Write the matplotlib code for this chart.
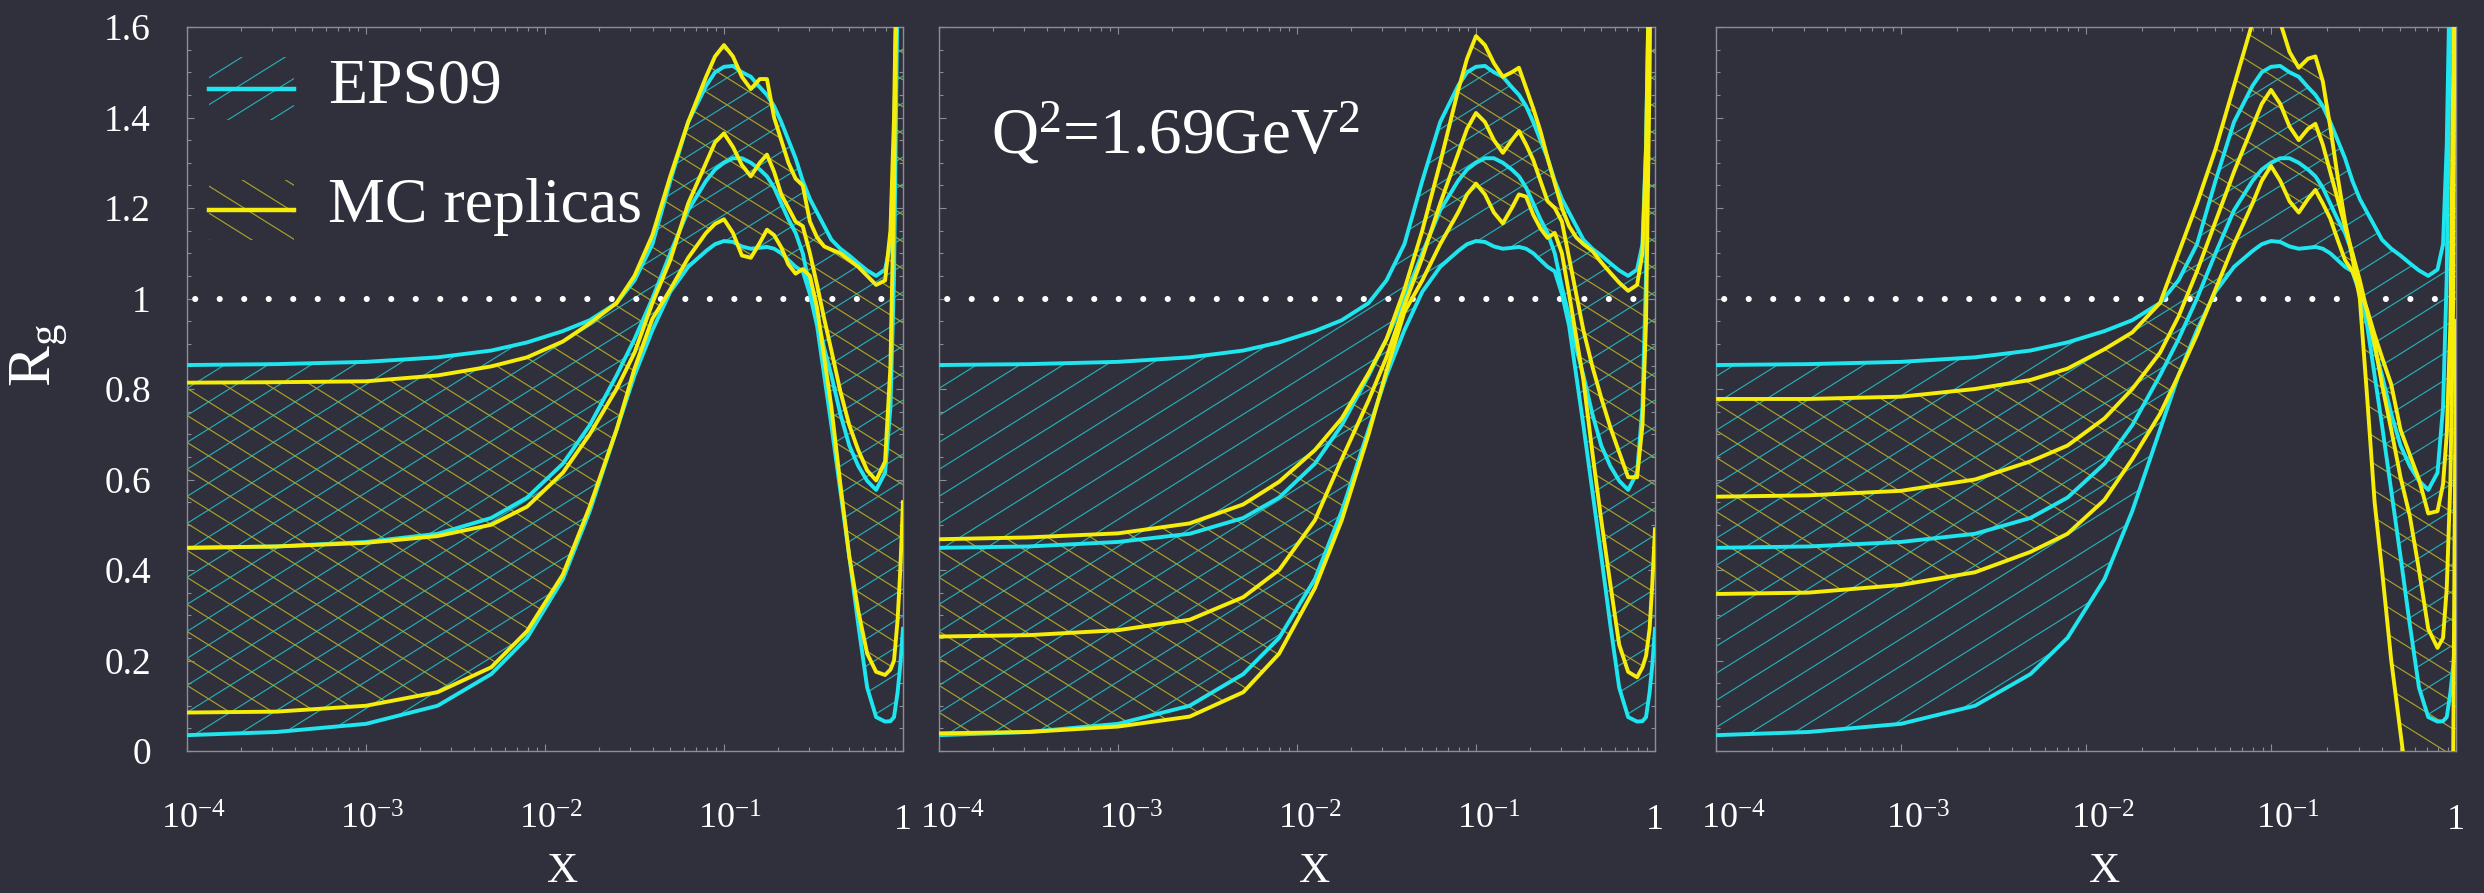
import numpy as np
import matplotlib
matplotlib.use('Agg')
import matplotlib.pyplot as plt
import matplotlib.transforms as mtransforms
from matplotlib.collections import LineCollection
from matplotlib.patches import Rectangle
from matplotlib.ticker import FixedLocator, FixedFormatter, MultipleLocator, LogLocator, NullFormatter

# log10(x) sample points
lx = [-4.0, -3.5, -3.0, -2.6, -2.3, -2.1, -1.9, -1.75, -1.6, -1.5,
      -1.4, -1.3, -1.2, -1.1, -1.05, -1.0, -0.95, -0.9, -0.85, -0.8,
      -0.76, -0.72, -0.68, -0.64, -0.6, -0.56, -0.52, -0.48, -0.44, -0.4,
      -0.35, -0.3, -0.25, -0.2, -0.15, -0.1, -0.07, -0.05, -0.03, -0.015, 0.0]

# EPS09 (same in all three panels)
eps_hi = [0.853, 0.855, 0.860, 0.870, 0.885, 0.903, 0.928, 0.952, 0.99, 1.04,
          1.12, 1.26, 1.39, 1.47, 1.50, 1.512, 1.514, 1.50, 1.49, 1.467,
          1.45, 1.425, 1.39, 1.35, 1.31, 1.26, 1.22, 1.19, 1.16, 1.13,
          1.11, 1.095, 1.078, 1.062, 1.05, 1.064, 1.12, 1.34, 1.8, 2.5, 3.5]
eps_mid = [0.449, 0.452, 0.462, 0.480, 0.515, 0.56, 0.635, 0.72, 0.83, 0.91,
           1.0, 1.10, 1.195, 1.26, 1.285, 1.30, 1.31, 1.31, 1.30, 1.285,
           1.27, 1.245, 1.21, 1.175, 1.145, 1.10, 1.025, 0.96, 0.89, 0.83,
           0.745, 0.675, 0.63, 0.597, 0.577, 0.615, 0.76, 1.05, 1.7, 2.5, 3.5]
eps_lo = [0.035, 0.042, 0.06, 0.10, 0.17, 0.25, 0.38, 0.53, 0.71, 0.83,
          0.93, 1.015, 1.07, 1.105, 1.12, 1.127, 1.125, 1.115, 1.11, 1.112,
          1.114, 1.11, 1.10, 1.085, 1.07, 1.06, 1.01, 0.94, 0.83, 0.72,
          0.575, 0.43, 0.28, 0.14, 0.075, 0.065, 0.066, 0.075, 0.13, 0.19, 0.27]

# MC replicas, panel 1
mc1_hi = [0.814, 0.815, 0.817, 0.83, 0.85, 0.87, 0.905, 0.945, 0.99, 1.05,
          1.14, 1.27, 1.39, 1.49, 1.535, 1.56, 1.535, 1.49, 1.463, 1.485,
          1.485, 1.40, 1.35, 1.30, 1.265, 1.25, 1.17, 1.135, 1.115, 1.108,
          1.10, 1.085, 1.07, 1.05, 1.03, 1.04, 1.15, 1.40, 1.9, 2.6, 3.5]
mc1_mid = [0.449, 0.452, 0.46, 0.475, 0.50, 0.54, 0.615, 0.70, 0.80, 0.88,
           0.99, 1.085, 1.21, 1.30, 1.345, 1.365, 1.335, 1.295, 1.27, 1.30,
           1.318, 1.28, 1.23, 1.20, 1.17, 1.16, 1.10, 1.03, 0.955, 0.885,
           0.795, 0.72, 0.665, 0.62, 0.598, 0.64, 0.85, 1.25, 1.9, 2.6, 3.5]
mc1_lo = [0.085, 0.087, 0.10, 0.13, 0.185, 0.265, 0.39, 0.54, 0.71, 0.845,
          0.955, 1.02, 1.09, 1.145, 1.165, 1.175, 1.145, 1.095, 1.09, 1.123,
          1.152, 1.14, 1.113, 1.075, 1.055, 1.065, 1.05, 0.98, 0.87, 0.76,
          0.59, 0.43, 0.31, 0.215, 0.175, 0.168, 0.18, 0.20, 0.29, 0.40, 0.55]

# MC replicas, panel 2
mc2_hi = [0.468, 0.472, 0.481, 0.503, 0.545, 0.595, 0.665, 0.735, 0.835, 0.91,
          1.02, 1.15, 1.30, 1.46, 1.53, 1.58, 1.56, 1.52, 1.49, 1.50,
          1.51, 1.465, 1.42, 1.37, 1.31, 1.255, 1.20, 1.16, 1.135, 1.12,
          1.105, 1.08, 1.057, 1.035, 1.017, 1.03, 1.10, 1.33, 1.8, 2.5, 3.5]
mc2_mid = [0.253, 0.256, 0.267, 0.29, 0.34, 0.40, 0.51, 0.645, 0.775, 0.87,
           0.985, 1.09, 1.21, 1.32, 1.375, 1.41, 1.39, 1.35, 1.322, 1.35,
           1.37, 1.34, 1.306, 1.26, 1.215, 1.20, 1.17, 1.09, 1.01, 0.93,
           0.85, 0.78, 0.716, 0.66, 0.605, 0.605, 0.72, 0.95, 1.5, 2.2, 3.0]
mc2_lo = [0.039, 0.042, 0.054, 0.076, 0.13, 0.215, 0.36, 0.51, 0.70, 0.84,
          0.97, 1.04, 1.12, 1.19, 1.23, 1.254, 1.23, 1.19, 1.166, 1.20,
          1.23, 1.225, 1.185, 1.155, 1.134, 1.145, 1.10, 1.01, 0.915, 0.82,
          0.66, 0.51, 0.37, 0.235, 0.175, 0.163, 0.185, 0.21, 0.27, 0.37, 0.49]

# MC replicas, panel 3
mc3_hi = [0.778, 0.778, 0.783, 0.80, 0.82, 0.845, 0.888, 0.925, 0.99, 1.10,
          1.21, 1.33, 1.47, 1.61, 1.69, 1.70, 1.61, 1.545, 1.51, 1.53,
          1.535, 1.48, 1.38, 1.27, 1.17, 1.09, 1.0, 0.78, 0.55, 0.40,
          0.20, 0.04, -0.12, -0.30, -0.45, -0.55, -0.55, -0.5, -0.35, 0.0, 0.95]
mc3_mid = [0.562, 0.565, 0.575, 0.60, 0.64, 0.675, 0.735, 0.80, 0.88, 0.96,
           1.06, 1.17, 1.28, 1.38, 1.43, 1.461, 1.43, 1.38, 1.35, 1.375,
           1.386, 1.34, 1.28, 1.22, 1.16, 1.10, 1.04, 0.97, 0.90, 0.81,
           0.71, 0.605, 0.52, 0.40, 0.27, 0.228, 0.25, 0.36, 0.6, 1.0, 2.5]
mc3_lo = [0.347, 0.350, 0.367, 0.395, 0.44, 0.48, 0.555, 0.645, 0.745, 0.83,
          0.92, 1.02, 1.12, 1.21, 1.26, 1.293, 1.26, 1.215, 1.19, 1.22,
          1.24, 1.21, 1.177, 1.13, 1.085, 1.06, 1.02, 0.975, 0.92, 0.87,
          0.81, 0.71, 0.655, 0.60, 0.525, 0.53, 0.59, 0.70, 0.95, 1.5, 2.5]

mc_sets = [(mc1_hi, mc1_mid, mc1_lo), (mc2_hi, mc2_mid, mc2_lo), (mc3_hi, mc3_mid, mc3_lo)]

yticks = [0, 0.2, 0.4, 0.6, 0.8, 1.0, 1.2, 1.4, 1.6]
ytick_labels = ['0', '0.2', '0.4', '0.6', '0.8', '1', '1.2', '1.4', '1.6']
xticks = [1e-4, 1e-3, 1e-2, 1e-1, 1]
xtick_labels = [r'$\mathregular{10^{-4}}$', r'$\mathregular{10^{-3}}$',
                r'$\mathregular{10^{-2}}$', r'$\mathregular{10^{-1}}$', '1']

plt.rcParams['font.family'] = ['Liberation Serif', 'DejaVu Serif']
plt.rcParams['mathtext.fontset'] = 'custom'
plt.rcParams['mathtext.rm'] = 'Liberation Serif'
plt.rcParams['mathtext.it'] = 'Liberation Serif:italic'
plt.rcParams['mathtext.bf'] = 'Liberation Serif:bold'

BG = '#2f303c'
CYAN = '#1fe6ee'
YELLOW = '#f6ee0a'
CYAN_H = '#25adb4'
YELLOW_H = '#a8a228'
FRAME = '#8c8c96'

x = 10 ** np.array(lx)

fig = plt.figure(figsize=(24.84, 8.93), dpi=100, facecolor=BG)
boxes = [(0.07528, 0.15901, 0.28824, 0.81075),
         (0.37802, 0.15901, 0.28824, 0.81075),
         (0.69082, 0.15901, 0.29791, 0.81075)]
label_shift = [6, 13, 17]  # px, the x tick labels sit a bit right of their ticks


def hatch(ax, clip, clip_trans, sign, color):
    # slanted hatch lines in pixel space, clipped to a region
    W, H = ax.bbox.width, ax.bbox.height
    t = np.tan(np.radians(32))
    step = 27.0
    segs = []
    for c in np.arange(-W * t - step, H + W * t + step, step):
        segs.append([(0, c / H), (1, (c + sign * W * t) / H)])
    lc = LineCollection(segs, colors=color, linewidths=0.85, transform=ax.transAxes, zorder=1)
    ax.add_collection(lc, autolim=False)
    lc.set_clip_path(clip, clip_trans)


for i, box in enumerate(boxes):
    ax = fig.add_axes(box)
    ax.set_facecolor(BG)
    ax.set_xscale('log')
    ax.set_xlim(1e-4, 1)
    ax.set_ylim(0, 1.6)
    mc_hi, mc_mid, mc_lo = mc_sets[i]

    band_c = ax.fill_between(x, eps_lo, eps_hi, facecolor='none', edgecolor='none', linewidth=0)
    hatch(ax, band_c.get_paths()[0], band_c.get_transform(), 1, CYAN_H)
    band_y = ax.fill_between(x, mc_lo, mc_hi, facecolor='none', edgecolor='none', linewidth=0)
    hatch(ax, band_y.get_paths()[0], band_y.get_transform(), -1, YELLOW_H)

    ax.axhline(1.0, color='white', lw=4.4, linestyle=(2.67, (0.01, 4.0)),
               dash_capstyle='round', zorder=3)

    for yy in (eps_hi, eps_mid, eps_lo):
        ax.plot(x, yy, color=CYAN, lw=2.8, zorder=4, solid_joinstyle='round')
    for yy in (mc_hi, mc_mid, mc_lo):
        ax.plot(x, yy, color=YELLOW, lw=2.8, zorder=5, solid_joinstyle='round')

    ax.xaxis.set_major_locator(FixedLocator(xticks))
    ax.xaxis.set_major_formatter(FixedFormatter(xtick_labels))
    ax.xaxis.set_minor_locator(LogLocator(base=10, subs=np.arange(2, 10)))
    ax.xaxis.set_minor_formatter(NullFormatter())
    ax.yaxis.set_major_locator(FixedLocator(yticks))
    ax.yaxis.set_minor_locator(MultipleLocator(0.05))
    if i == 0:
        ax.yaxis.set_major_formatter(FixedFormatter(ytick_labels))
    else:
        ax.tick_params(axis='y', labelleft=False)

    ax.tick_params(which='both', direction='in', top=True, right=True,
                   color=FRAME, labelcolor='white', width=0.8)
    ax.tick_params(which='major', length=5)
    ax.tick_params(which='minor', length=3)
    ax.tick_params(axis='x', labelsize=26, pad=38)
    ax.tick_params(axis='y', labelsize=27, pad=26)
    shift = mtransforms.ScaledTranslation(label_shift[i] / 100, 0, fig.dpi_scale_trans)
    for lab in ax.get_xticklabels()[:4]:
        lab.set_transform(lab.get_transform() + shift)
    for s in ax.spines.values():
        s.set_color(FRAME)
        s.set_linewidth(1.0)

    ax.text(0.525, -0.167, 'X', transform=ax.transAxes, ha='center', va='center',
            fontsize=31, color='white')

    if i == 0:
        # hand-made legend with slanted hatching
        r1 = Rectangle((0.031, 0.872), 0.118, 0.086, transform=ax.transAxes,
                       fill=False, edgecolor='none')
        r2 = Rectangle((0.031, 0.706), 0.118, 0.083, transform=ax.transAxes,
                       fill=False, edgecolor='none')
        ax.add_patch(r1)
        ax.add_patch(r2)
        hatch(ax, r1, None, 1, CYAN_H)
        hatch(ax, r2, None, -1, YELLOW_H)
        ax.plot([0.031, 0.149], [0.914, 0.914], transform=ax.transAxes, color=CYAN, lw=3.2, zorder=6)
        ax.plot([0.031, 0.149], [0.747, 0.747], transform=ax.transAxes, color=YELLOW, lw=3.2, zorder=6)
        ax.text(0.197, 0.896, 'EPS09', transform=ax.transAxes, fontsize=46,
                color='white', va='baseline')
        ax.text(0.197, 0.731, 'MC replicas', transform=ax.transAxes, fontsize=46,
                color='white', va='baseline')
    if i == 1:
        ax.text(0.072, 0.827, r'Q$^\mathregular{2}$=1.69GeV$^\mathregular{2}$',
                transform=ax.transAxes, fontsize=47, color='white', va='baseline')

fig.text(0.016, 1 - 355 / 893, r'R$_\mathregular{g}$', rotation=90, fontsize=44,
         color='white', ha='center', va='center')

fig.savefig('out.png', dpi=100, facecolor=BG)
